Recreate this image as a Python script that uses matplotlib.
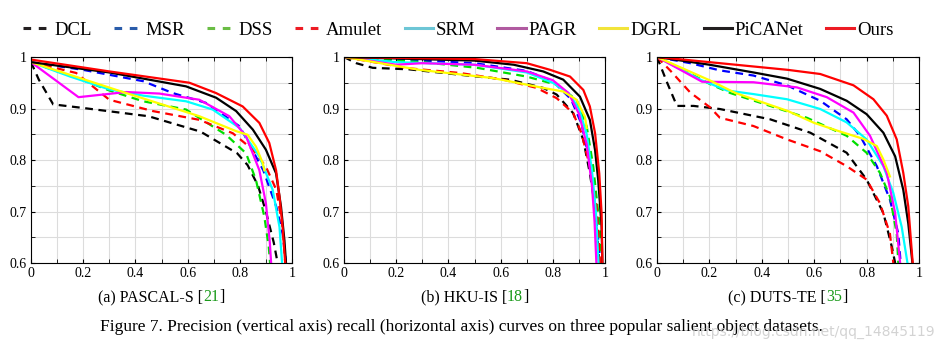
import matplotlib.pyplot as plt
from matplotlib.lines import Line2D
import numpy as np

plt.rcParams['font.family'] = ['Liberation Serif', 'DejaVu Serif']

# methods / styles
methods = ["DCL", "MSR", "DSS", "Amulet", "SRM", "PAGR", "DGRL", "PiCANet", "Ours"]
line_colors = ['black', '#0000ff', '#00dd00', '#ff0000', '#00ffff', '#ff00ff', '#ffff00', 'black', '#ff0000']
legend_colors = ['#231f20', '#2a5caa', '#6abd45', '#ed1c24', '#6dc6d6', '#b05aa0', '#f2e43a', '#231f20', '#ed1c24']
dashed = [True, True, True, True, False, False, False, False, False]

# ---------------- (a) PASCAL-S ----------------
pascal_dcl_x = [0, 0.03, 0.085, 0.2, 0.45, 0.65, 0.79, 0.83, 0.87, 0.90, 0.93, 0.945]
pascal_dcl_y = [0.99, 0.956, 0.908, 0.901, 0.885, 0.855, 0.813, 0.79, 0.75, 0.70, 0.64, 0.6]
pascal_msr_x = [0, 0.2, 0.43, 0.543, 0.67, 0.8, 0.89, 0.94, 0.964, 0.977]
pascal_msr_y = [0.99, 0.975, 0.953, 0.930, 0.911, 0.865, 0.78, 0.709, 0.657, 0.6]
pascal_dss_x = [0, 0.2, 0.3, 0.43, 0.594, 0.747, 0.824, 0.862, 0.894, 0.911, 0.916]
pascal_dss_y = [0.99, 0.955, 0.935, 0.914, 0.898, 0.849, 0.813, 0.761, 0.69, 0.631, 0.6]
pascal_amulet_x = [0, 0.173, 0.30, 0.467, 0.645, 0.773, 0.85, 0.90, 0.94, 0.964, 0.974]
pascal_amulet_y = [0.99, 0.969, 0.917, 0.895, 0.878, 0.852, 0.82, 0.787, 0.742, 0.67, 0.6]
pascal_srm_x = [0, 0.15, 0.30, 0.43, 0.594, 0.696, 0.8, 0.875, 0.926, 0.952, 0.962]
pascal_srm_y = [0.99, 0.962, 0.937, 0.925, 0.914, 0.898, 0.862, 0.807, 0.742, 0.67, 0.6]
pascal_pagr_x = [0, 0.182, 0.365, 0.492, 0.645, 0.76, 0.824, 0.875, 0.90, 0.915, 0.92]
pascal_pagr_y = [0.99, 0.922, 0.932, 0.929, 0.917, 0.885, 0.846, 0.78, 0.716, 0.64, 0.6]
pascal_dgrl_x = [0, 0.34, 0.645, 0.786, 0.83, 0.862, 0.888, 0.894]
pascal_dgrl_y = [0.99, 0.934, 0.885, 0.856, 0.849, 0.826, 0.794, 0.78]
pascal_picanet_x = [0, 0.3, 0.594, 0.709, 0.786, 0.85, 0.90, 0.939, 0.958, 0.971, 0.977]
pascal_picanet_y = [0.99, 0.97, 0.943, 0.921, 0.895, 0.859, 0.82, 0.774, 0.709, 0.644, 0.6]
pascal_ours_x = [0, 0.3, 0.607, 0.709, 0.811, 0.875, 0.913, 0.939, 0.952, 0.964, 0.974]
pascal_ours_y = [0.995, 0.972, 0.95, 0.93, 0.904, 0.872, 0.833, 0.78, 0.729, 0.67, 0.6]

# ---------------- (b) HKU-IS ----------------
hku_dcl_x = [0, 0.047, 0.11, 0.25, 0.38, 0.51, 0.636, 0.763, 0.815, 0.878, 0.917, 0.942, 0.962, 0.978]
hku_dcl_y = [1.0, 0.988, 0.979, 0.976, 0.969, 0.962, 0.956, 0.94, 0.927, 0.891, 0.839, 0.774, 0.709, 0.6]
hku_msr_x = [0, 0.3, 0.5, 0.7, 0.8, 0.87, 0.91, 0.94, 0.96, 0.975, 0.983]
hku_msr_y = [1.0, 0.993, 0.988, 0.973, 0.953, 0.918, 0.87, 0.80, 0.72, 0.64, 0.6]
hku_dss_x = [0, 0.3, 0.51, 0.7, 0.815, 0.891, 0.93, 0.955, 0.98, 0.987]
hku_dss_y = [1.0, 0.99, 0.979, 0.962, 0.946, 0.917, 0.865, 0.787, 0.67, 0.6]
hku_amulet_x = [0, 0.25, 0.444, 0.61, 0.738, 0.815, 0.878, 0.91, 0.942, 0.968, 0.981]
hku_amulet_y = [1.0, 0.978, 0.969, 0.956, 0.94, 0.92, 0.891, 0.852, 0.787, 0.709, 0.6]
hku_srm_x = [0, 0.2, 0.5, 0.7, 0.8, 0.86, 0.9, 0.93, 0.95, 0.965, 0.975]
hku_srm_y = [1.0, 0.99, 0.985, 0.97, 0.95, 0.93, 0.90, 0.85, 0.78, 0.70, 0.6]
hku_pagr_x = [0, 0.2, 0.3, 0.5, 0.7, 0.8, 0.86, 0.9, 0.93, 0.95, 0.96, 0.967]
hku_pagr_y = [1.0, 0.985, 0.988, 0.985, 0.972, 0.955, 0.93, 0.89, 0.83, 0.75, 0.68, 0.6]
hku_dgrl_x = [0, 0.29, 0.572, 0.763, 0.84, 0.891, 0.923, 0.93]
hku_dgrl_y = [1.0, 0.975, 0.959, 0.94, 0.933, 0.917, 0.884, 0.862]
hku_picanet_x = [0, 0.5, 0.65, 0.763, 0.84, 0.904, 0.942, 0.962, 0.974, 0.987, 0.99]
hku_picanet_y = [1.0, 0.993, 0.985, 0.972, 0.956, 0.923, 0.878, 0.819, 0.761, 0.67, 0.6]
hku_ours_x = [0, 0.5, 0.7, 0.79, 0.866, 0.917, 0.942, 0.962, 0.978, 0.987, 0.99]
hku_ours_y = [1.0, 0.996, 0.988, 0.975, 0.962, 0.936, 0.904, 0.852, 0.774, 0.696, 0.6]

# ---------------- (c) DUTS-TE ----------------
duts_dcl_x = [0, 0.038, 0.076, 0.14, 0.24, 0.432, 0.585, 0.724, 0.8, 0.864, 0.896, 0.909]
duts_dcl_y = [1.0, 0.951, 0.905, 0.905, 0.899, 0.879, 0.853, 0.814, 0.762, 0.697, 0.632, 0.6]
duts_msr_x = [0, 0.127, 0.24, 0.368, 0.496, 0.623, 0.724, 0.775, 0.839, 0.889, 0.921, 0.93]
duts_msr_y = [1.0, 0.988, 0.974, 0.964, 0.945, 0.915, 0.879, 0.847, 0.788, 0.723, 0.657, 0.6]
duts_dss_x = [0, 0.1, 0.2, 0.28, 0.432, 0.572, 0.724, 0.8, 0.851, 0.889, 0.915, 0.921]
duts_dss_y = [1.0, 0.975, 0.948, 0.93, 0.905, 0.882, 0.847, 0.814, 0.775, 0.729, 0.657, 0.6]
duts_amulet_x = [0, 0.05, 0.127, 0.203, 0.24, 0.368, 0.496, 0.623, 0.724, 0.8, 0.851, 0.889, 0.902]
duts_amulet_y = [1.0, 0.974, 0.931, 0.902, 0.882, 0.866, 0.84, 0.817, 0.788, 0.762, 0.716, 0.657, 0.6]
duts_srm_x = [0, 0.17, 0.267, 0.368, 0.496, 0.623, 0.724, 0.8, 0.864, 0.902, 0.934, 0.956]
duts_srm_y = [1.0, 0.955, 0.935, 0.928, 0.918, 0.899, 0.873, 0.84, 0.788, 0.736, 0.67, 0.6]
duts_pagr_x = [0, 0.172, 0.368, 0.534, 0.648, 0.75, 0.813, 0.877, 0.909, 0.928]
duts_pagr_y = [1.0, 0.952, 0.951, 0.941, 0.922, 0.892, 0.847, 0.775, 0.697, 0.6]
duts_dgrl_x = [0, 0.2, 0.3, 0.5, 0.6, 0.7, 0.788, 0.839, 0.864, 0.889]
duts_dgrl_y = [1.0, 0.955, 0.93, 0.895, 0.872, 0.855, 0.841, 0.827, 0.801, 0.768]
duts_picanet_x = [0, 0.2, 0.368, 0.496, 0.623, 0.724, 0.8, 0.864, 0.909, 0.94, 0.959, 0.975]
duts_picanet_y = [1.0, 0.985, 0.97, 0.958, 0.938, 0.915, 0.889, 0.853, 0.807, 0.742, 0.677, 0.6]
duts_ours_x = [0, 0.3, 0.5, 0.623, 0.75, 0.826, 0.877, 0.915, 0.94, 0.959, 0.976]
duts_ours_y = [1.0, 0.985, 0.975, 0.967, 0.945, 0.918, 0.886, 0.84, 0.775, 0.71, 0.6]

pascal = [(pascal_dcl_x, pascal_dcl_y), (pascal_msr_x, pascal_msr_y), (pascal_dss_x, pascal_dss_y),
          (pascal_amulet_x, pascal_amulet_y), (pascal_srm_x, pascal_srm_y), (pascal_pagr_x, pascal_pagr_y),
          (pascal_dgrl_x, pascal_dgrl_y), (pascal_picanet_x, pascal_picanet_y), (pascal_ours_x, pascal_ours_y)]
hku = [(hku_dcl_x, hku_dcl_y), (hku_msr_x, hku_msr_y), (hku_dss_x, hku_dss_y),
       (hku_amulet_x, hku_amulet_y), (hku_srm_x, hku_srm_y), (hku_pagr_x, hku_pagr_y),
       (hku_dgrl_x, hku_dgrl_y), (hku_picanet_x, hku_picanet_y), (hku_ours_x, hku_ours_y)]
duts = [(duts_dcl_x, duts_dcl_y), (duts_msr_x, duts_msr_y), (duts_dss_x, duts_dss_y),
        (duts_amulet_x, duts_amulet_y), (duts_srm_x, duts_srm_y), (duts_pagr_x, duts_pagr_y),
        (duts_dgrl_x, duts_dgrl_y), (duts_picanet_x, duts_picanet_y), (duts_ours_x, duts_ours_y)]

captions = [("(a) PASCAL-S [", "21", "]"), ("(b) HKU-IS [", "18", "]"), ("(c) DUTS-TE [", "35", "]")]

fig = plt.figure(figsize=(9.39, 3.53), dpi=100)
W, H = 939, 353
# axes boxes in pixels (left, right, top, bottom)
boxes = [(31, 292, 57, 263), (344, 605, 57, 263), (657, 919, 57, 263)]

def draw_pieces(x, y, pieces, size):
    # draw coloured pieces of text one after another, centred at x
    r = fig.canvas.get_renderer()
    txts = []
    for s, c in pieces:
        t = fig.text(0, y, s, fontsize=size, color=c, va='center', ha='left')
        txts.append(t)
    widths = [t.get_window_extent(r).width / W for t in txts]
    cur = x - sum(widths) / 2
    for t, w in zip(txts, widths):
        t.set_x(cur)
        cur += w

for k, (data, box) in enumerate(zip([pascal, hku, duts], boxes)):
    l, r_, t, b = box
    ax = fig.add_axes([l / W, 1 - b / H, (r_ - l) / W, (b - t) / H])
    for (xs, ys), c, d in zip(data, line_colors, dashed):
        ax.plot(xs, ys, color=c, lw=1.6, ls=(0, (3.5, 2.5)) if d else '-')
    ax.set_xlim(0, 1)
    ax.set_ylim(0.6, 1)
    ax.set_xticks(np.arange(0, 1.01, 0.2))
    ax.set_xticklabels(['0', '0.2', '0.4', '0.6', '0.8', '1'])
    ax.set_xticks(np.arange(0, 1.01, 0.1), minor=True)
    ax.set_yticks([0.6, 0.7, 0.8, 0.9, 1.0])
    ax.set_yticklabels(['0.6', '0.7', '0.8', '0.9', '1'])
    ax.set_yticks(np.arange(0.6, 1.001, 0.05), minor=True)
    ax.grid(True, which='both', color='#dcdcdc', lw=0.8)
    ax.set_axisbelow(True)
    ax.tick_params(which='both', direction='in', top=True, right=True, labelsize=10, length=3, pad=3)
    for sp in ax.spines.values():
        sp.set_linewidth(0.8)
    a, num, c = captions[k]
    draw_pieces((l + r_) / 2 / W, 1 - 297 / H, [(a, 'black'), (num, '#1a9a1a'), (c, 'black')], 11.5)

handles = [Line2D([], [], color=c, lw=2.2, ls=(0, (2.5, 2.5)) if d else '-')
           for c, d in zip(legend_colors, dashed)]
fig.legend(handles, methods, loc='center', bbox_to_anchor=(0.488, 1 - 30 / H), ncol=9, frameon=False,
           fontsize=13.5, handlelength=1.5, handletextpad=0.15, columnspacing=1.2, borderpad=0)

fig.text(461 / W, 1 - 327 / H,
         "Figure 7. Precision (vertical axis) recall (horizontal axis) curves on three popular salient object datasets.",
         fontsize=12.5, ha='center', va='center')
fig.text(935 / W, 1 - 332 / H, "https://blog.csdn.net/qq_14845119", fontsize=10, color='#c8c8c8',
         ha='right', va='center', family=['DejaVu Sans'], alpha=0.8)

fig.savefig('out.png', dpi=100)
